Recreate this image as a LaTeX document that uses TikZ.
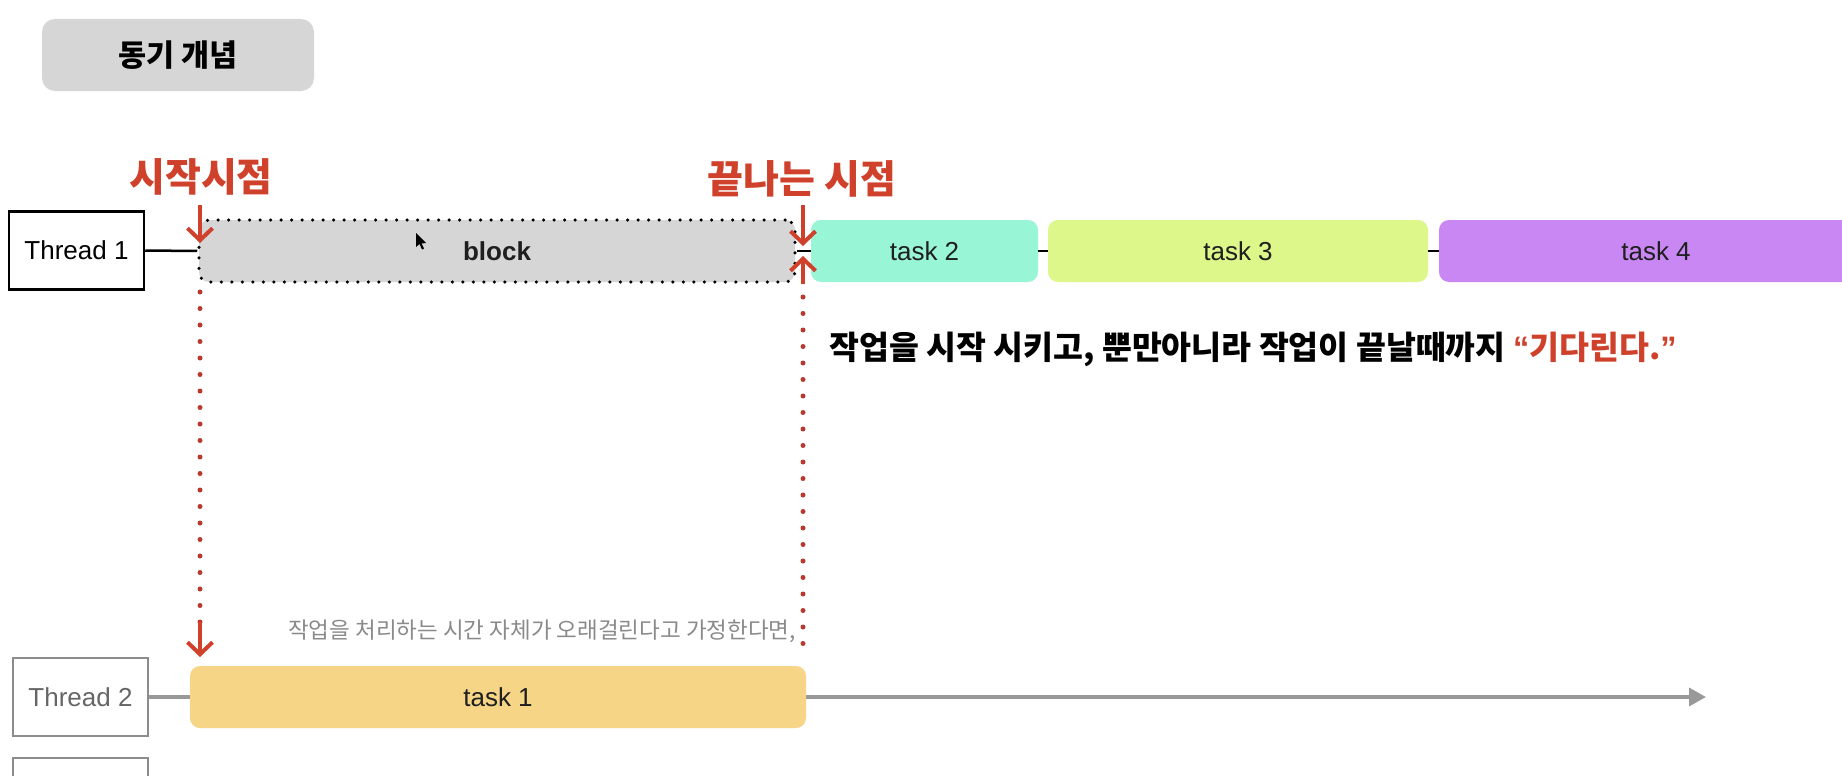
\documentclass[tikz,border=0pt]{standalone}
\usepackage{fontspec}
\setmainfont{Liberation Sans}
\newfontfamily\kr{Noto Sans CJK KR}
\usetikzlibrary{arrows.meta}
\definecolor{titlegray}{HTML}{D6D6D6}
\definecolor{blockgray}{HTML}{D6D6D6}
\definecolor{mint}{HTML}{98F5D6}
\definecolor{lime}{HTML}{DDF78A}
\definecolor{violet}{HTML}{C987F3}
\definecolor{sand}{HTML}{F6D686}
\definecolor{accent}{HTML}{D0412C}
\definecolor{dotred}{HTML}{B83A2E}
\definecolor{midgray}{HTML}{8C8C8C}
\definecolor{textgray}{HTML}{8A8A8A}
\definecolor{axisgray}{HTML}{999999}
\tikzset{
  taskbox/.style={rounded corners=10pt, minimum height=62pt, inner sep=0pt, text=black!88, font=\fontsize{26}{30}\selectfont},
  threadbox/.style={draw=black, line width=2.5pt, minimum width=135pt, minimum height=78pt, inner sep=0pt, font=\fontsize{26}{30}\selectfont},
  threadgray/.style={threadbox, draw=midgray, text=black!60},
  link/.style={line width=2.5pt, black},
  redlabel/.style={text=accent, font=\kr\bfseries\fontsize{39}{44}\selectfont},
  reddots/.style={dotred, line width=5pt, line cap=round, dash pattern=on 0pt off 16.5pt},
  redarrow/.style={accent, line width=4pt, -{Straight Barb[length=12pt, width=25pt]}},
}
\begin{document}
\begin{tikzpicture}[x=1pt, y=-1pt]
\useasboundingbox (0,0) rectangle (1842,776);
\clip (0,0) rectangle (1842,776);
\fill[white] (0,0) rectangle (1842,776);

% title
\node[fill=titlegray, rounded corners=13pt, minimum width=272pt, minimum height=72pt, inner sep=0pt,
      font=\kr\bfseries\fontsize{30.5}{34}\selectfont] (title) at (178,55) {동기 개념};

% thread 1 row
\node[threadbox] (t1) at (76.5,250.5) {Thread 1};
\node[taskbox, fill=blockgray, minimum width=596pt, draw=black, line width=3.5pt, line cap=round,
      dash pattern=on 0pt off 10.5pt, font=\bfseries\fontsize{26}{30}\selectfont] (block) at (497,251) {block};
\node[taskbox, fill=mint, minimum width=227pt] (task2) at (924.5,251) {task 2};
\node[taskbox, fill=lime, minimum width=380pt] (task3) at (1238,251) {task 3};
\node[taskbox, fill=violet, minimum width=434pt] (task4) at (1656,251) {task 4};
\draw[link] (t1.east) -- (block.west);
\draw[link] (block.east) -- (task2.west);
\draw[link] (task2.east) -- (task3.west);
\draw[link] (task3.east) -- (task4.west);

% cursor
\fill[black] (416,233) -- (416,247) -- (419.5,244) -- (422,249.5) -- (424,248.5) -- (421.5,243.5) -- (426,243) -- cycle;

% labels
\node[redlabel] (startlbl) at (201,177) {시작시점};
\node[redlabel] (endlbl) at (802,179) {끝나는 시점};

% start / end arrows
\coordinate (s0) at (200,205);
\coordinate (s1) at (200,243);
\coordinate (e0) at (803,205);
\coordinate (e1) at (803,246);
\coordinate (u0) at (803,284);
\coordinate (u1) at (803,256);
\draw[redarrow] (s0) -- (s1);
\draw[redarrow] (e0) -- (e1);
\draw[redarrow] (u0) -- (u1);

% dotted guide lines
\coordinate (ld0) at (200,292);
\coordinate (ld1) at (200,626);
\coordinate (rd0) at (803,297);
\coordinate (rd1) at (803,652);
\draw[reddots] (ld0) -- (ld1);
\draw[reddots] (rd0) -- (rd1);
\coordinate (la0) at (200,622);
\coordinate (la1) at (200,657);
\draw[redarrow] (la0) -- (la1);

% main sentence
\node[anchor=west, inner sep=0pt, font=\kr\bfseries\fontsize{32.5}{36}\selectfont] (msg) at (829,349)
  {작업을 시작 시키고, 뿐만아니라 작업이 끝날때까지 \textcolor{accent}{{\fontspec{Liberation Sans}\bfseries “}기다린다.{\fontspec{Liberation Sans}\bfseries ”}}};

% gray note
\node[anchor=east, inner sep=0pt, text=textgray, font=\kr\fontsize{22.5}{26}\selectfont] (note) at (796,631)
  {작업을 처리하는 시간 자체가 오래걸린다고 가정한다면,};

% thread 2 row
\node[threadgray] (t2) at (80.5,697) {Thread 2};
\node[taskbox, fill=sand, minimum width=616pt] (task1) at (498,697) {task 1};
\coordinate (axisend) at (1706,697);
\draw[axisgray, line width=3.5pt] (t2.east) -- (task1.west);
\draw[axisgray, line width=3.5pt, -{Triangle[length=17pt, width=18pt]}] (task1.east) -- (axisend);

% thread 3 (cut off)
\node[threadgray] (t3) at (80.5,797) {};
\end{tikzpicture}
\end{document}
